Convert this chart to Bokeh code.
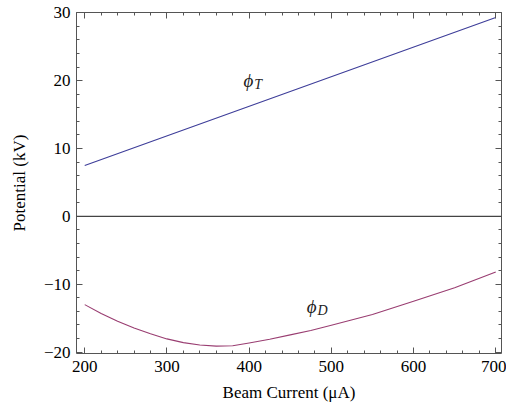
from bokeh.plotting import figure
from bokeh.models import (LinearAxis, Range1d, Span, Label, SingleIntervalTicker,
                          CustomJSTickFormatter, ColumnDataSource)
from bokeh.embed import file_html
from bokeh.resources import INLINE

# Data
current_T = [200, 450, 700]
phi_T = [7.5, 18.4, 29.3]

current_D = [200, 220, 240, 260, 280, 300, 320, 340, 360, 380, 400,
             425, 450, 475, 500, 550, 600, 650, 700]
phi_D = [-13.0, -14.3, -15.45, -16.45, -17.3, -18.05, -18.6, -18.95, -19.12, -19.05, -18.65,
         -18.1, -17.45, -16.8, -16.05, -14.45, -12.5, -10.5, -8.2]

x_label = "Beam Current (μA)"
y_label = "Potential (kV)"

FONT = "Liberation Serif"
FRAME = "#555555"
BLUE = "#3d3d99"
PURPLE = "#993d71"

p = figure(width=506, height=416, output_backend="svg", toolbar_location=None,
           x_range=Range1d(190, 707), y_range=Range1d(-20.2, 30.05),
           min_border_left=76, min_border_right=5, min_border_top=12,
           min_border_bottom=63, x_axis_label=x_label, y_axis_label=y_label)
p.xgrid.visible = False
p.ygrid.visible = False
p.outline_line_color = None
p.background_fill_color = "white"
p.border_fill_color = "white"

def style_axis(ax):
    ax.axis_line_color = FRAME
    ax.axis_line_width = 1
    ax.major_tick_line_color = FRAME
    ax.minor_tick_line_color = FRAME
    ax.major_tick_in = 6
    ax.major_tick_out = 0
    ax.minor_tick_in = 3
    ax.minor_tick_out = 0
    ax.major_label_text_font = FONT
    ax.major_label_text_font_size = "17px"
    ax.major_label_text_color = "black"
    ax.axis_label_text_font = FONT
    ax.axis_label_text_font_size = "17px"
    ax.axis_label_text_font_style = "normal"
    ax.axis_label_text_color = "black"

p.xaxis.ticker = SingleIntervalTicker(interval=100, num_minor_ticks=5)
p.yaxis.ticker = SingleIntervalTicker(interval=10, num_minor_ticks=5)
for ax in p.xaxis + p.yaxis:
    style_axis(ax)
p.xaxis.major_label_standoff = 7
p.xaxis.axis_label_standoff = 8
p.yaxis.major_label_standoff = 6
p.yaxis.axis_label_standoff = 12

blank = CustomJSTickFormatter(code="return ''")
top = LinearAxis(ticker=SingleIntervalTicker(interval=100, num_minor_ticks=5),
                 formatter=blank, major_label_standoff=0)
right = LinearAxis(ticker=SingleIntervalTicker(interval=10, num_minor_ticks=5),
                   formatter=blank, major_label_standoff=0)
style_axis(top)
style_axis(right)
p.add_layout(top, "above")
p.add_layout(right, "right")

# zero axis line
p.add_layout(Span(location=0, dimension="width", line_color="#444444", line_width=1.3))

src_T = ColumnDataSource(dict(x=current_T, y=phi_T))
src_D = ColumnDataSource(dict(x=current_D, y=phi_D))
p.line("x", "y", source=src_T, line_color=BLUE, line_width=1.1)
p.line("x", "y", source=src_D, line_color=PURPLE, line_width=1.1, line_join="round")

# curve labels
def curve_label(x, y, sub):
    p.add_layout(Label(x=x, y=y, text="ϕ", text_font=FONT, text_font_size="19px",
                       text_font_style="italic", text_align="right",
                       text_baseline="middle", text_color="#222222"))
    p.add_layout(Label(x=x, y=y, text=sub, text_font=FONT, text_font_size="14px",
                       text_font_style="italic", text_align="left",
                       text_baseline="middle", y_offset=-4, x_offset=1,
                       text_color="#222222"))

curve_label(405, 20.0, "T")
curve_label(482, -13.3, "D")

open("out.html", "w").write(file_html(p, INLINE))
